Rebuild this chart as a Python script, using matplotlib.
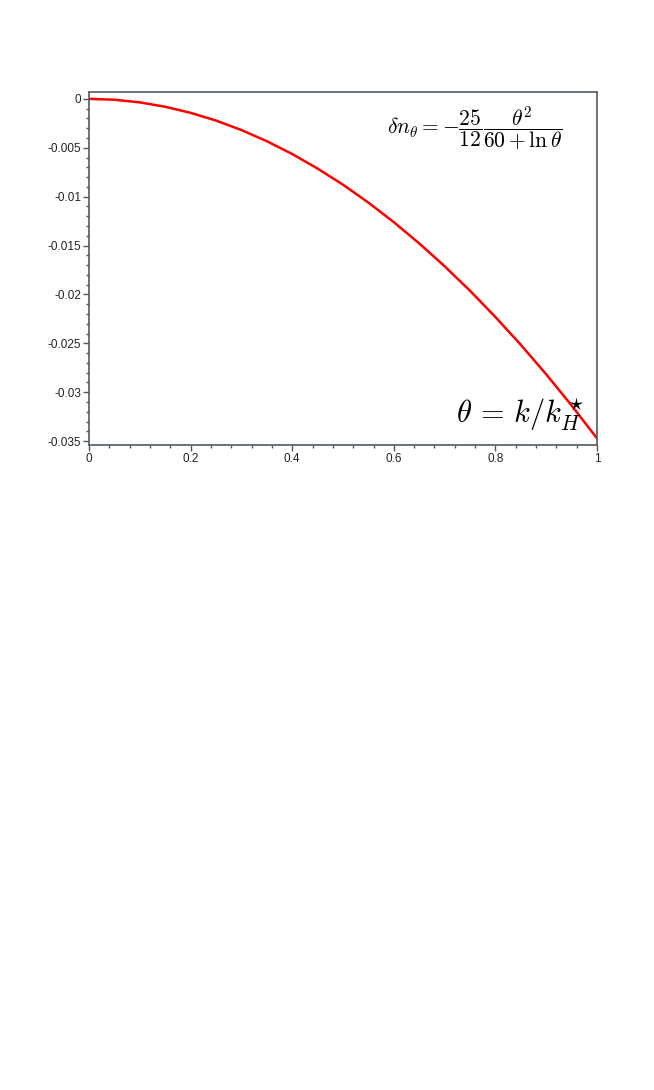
import matplotlib
matplotlib.use("Agg")
import matplotlib.pyplot as plt
from matplotlib.ticker import MultipleLocator, FuncFormatter

# values
theta = [0.0, 0.05, 0.1, 0.15, 0.2, 0.25, 0.3, 0.35, 0.4, 0.45, 0.5,
         0.55, 0.6, 0.65, 0.7, 0.75, 0.8, 0.85, 0.9, 0.95, 1.0]
dn = [0.0, -0.00009, -0.00036, -0.00081, -0.00143, -0.00222, -0.00319,
      -0.00433, -0.00564, -0.00713, -0.00878, -0.01061, -0.01261,
      -0.01478, -0.01712, -0.01962, -0.02231, -0.02515, -0.02817,
      -0.03136, -0.03472]

xticks = [0, 0.2, 0.4, 0.6, 0.8, 1]
yticks = [0, -0.005, -0.01, -0.015, -0.02, -0.025, -0.03, -0.035]

plt.rcParams['axes.unicode_minus'] = False
plt.rcParams['mathtext.fontset'] = 'cm'
tickfont = ['Liberation Sans Narrow', 'Liberation Sans', 'DejaVu Sans']

fig = plt.figure(figsize=(6.54, 10.9), dpi=100)
ax = fig.add_axes([0.1361, 0.5917, 0.7768, 0.3239])

ax.plot(theta, dn, "-", color='#ff0000', lw=1.8)

ax.set_xlim(0, 1)
ax.set_ylim(-0.0354, 0.0007)
ax.set_xticks(xticks)
ax.set_yticks(yticks)
ax.xaxis.set_minor_locator(MultipleLocator(0.04))
ax.yaxis.set_minor_locator(MultipleLocator(0.001))
fmt = FuncFormatter(lambda v, p: "%g" % round(v, 4))
ax.xaxis.set_major_formatter(fmt)
ax.yaxis.set_major_formatter(fmt)

edge = '#505a64'
for sp in ax.spines.values():
    sp.set_color(edge)
    sp.set_linewidth(1.2)
ax.tick_params(which='major', direction='out', length=4, width=1, color=edge,
               labelsize=8.5, pad=1.5, labelcolor='#222222')
ax.tick_params(which='minor', direction='out', length=2, width=1, color=edge)
for lab in ax.get_xticklabels() + ax.get_yticklabels():
    lab.set_family(tickfont)

ax.text(0.931, 0.963,
        r"$\delta n_\theta = -\dfrac{25}{12}\dfrac{\theta^2}{60+\ln\theta}$",
        transform=ax.transAxes, ha='right', va='top', fontsize=15.5)
ax.text(0.976, 0.062, r"$\theta\, =\, k/k^\star_H$",
        transform=ax.transAxes, ha='right', va='baseline', fontsize=22)

fig.savefig("out.png", dpi=100)
